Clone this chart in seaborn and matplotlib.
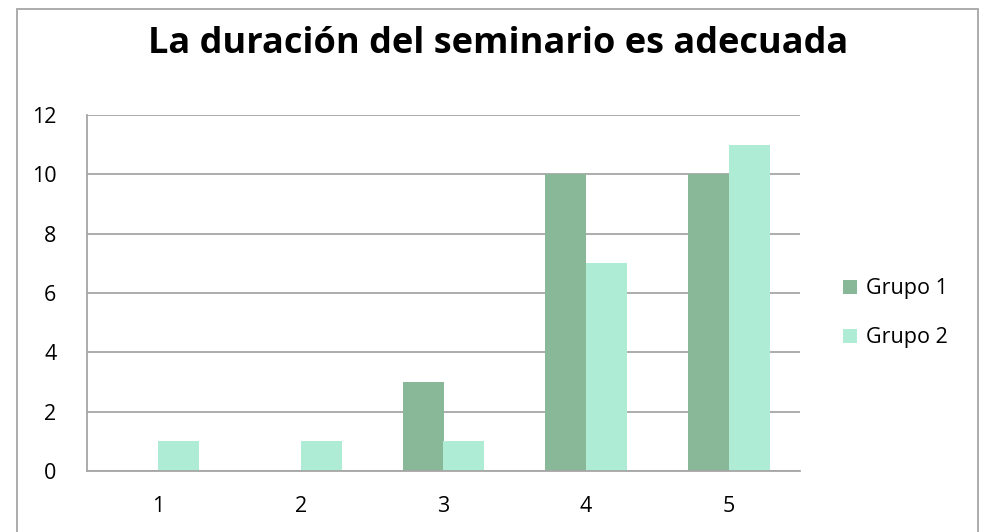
import pandas as pd
import matplotlib.pyplot as plt
import seaborn as sns
from matplotlib.patches import Rectangle

# Datos del gráfico
categorias = ["1", "2", "3", "4", "5"]
grupo_1 = [0, 0, 3, 10, 10]
grupo_2 = [1, 1, 1, 7, 11]
y_ticks = [0, 2, 4, 6, 8, 10, 12]

df = pd.DataFrame({
    "Respuesta": categorias * 2,
    "Cantidad": grupo_1 + grupo_2,
    "Grupo": ["Grupo 1"] * 5 + ["Grupo 2"] * 5,
})

sns.set_style("white")
plt.rcParams['font.family'] = ['Open Sans', 'DejaVu Sans']
plt.rcParams['text.color'] = 'black'

fig = plt.figure(figsize=(9.86, 5.32), dpi=100)
# marco exterior del gráfico
fig.patches.append(Rectangle((17 / 986, -0.05), 961 / 986, 1.05 - 9 / 532,
                             transform=fig.transFigure, fill=False,
                             edgecolor='#a6a6a6', linewidth=1.3))

ax = fig.add_axes([87 / 986, 1 - 471 / 532, 713 / 986, 356 / 532])
sns.barplot(data=df, x="Respuesta", y="Cantidad", hue="Grupo",
            palette=["#88b898", "#aeecd5"], saturation=1, width=0.575, gap=0,
            edgecolor="none", ax=ax)

ax.set_ylim(0, 12)
ax.set_yticks(y_ticks)
ax.set_xlabel("")
ax.set_ylabel("")
ax.yaxis.grid(True, color='#a6a6a6', linewidth=1.3)
ax.set_axisbelow(True)
for s in ['top', 'right']:
    ax.spines[s].set_visible(False)
for s in ['left', 'bottom']:
    ax.spines[s].set_color('#a6a6a6')
    ax.spines[s].set_linewidth(1.3)
ax.tick_params(axis='both', length=0, labelsize=15.5, colors='black')
ax.tick_params(axis='y', pad=22)
ax.tick_params(axis='x', pad=18)

leg = ax.legend(loc='center left', bbox_to_anchor=(1.033, 0.443), frameon=False,
                fontsize=15.5, handlelength=0.65, handleheight=0.65,
                handletextpad=0.4, labelspacing=1.3)
for t in leg.get_texts():
    t.set_color('black')

fig.text(0.505, 1 - 44 / 532, "La duración del seminario es adecuada",
         ha='center', va='center', fontsize=26, fontweight='bold', color='black')

plt.savefig("out.png", dpi=100)
